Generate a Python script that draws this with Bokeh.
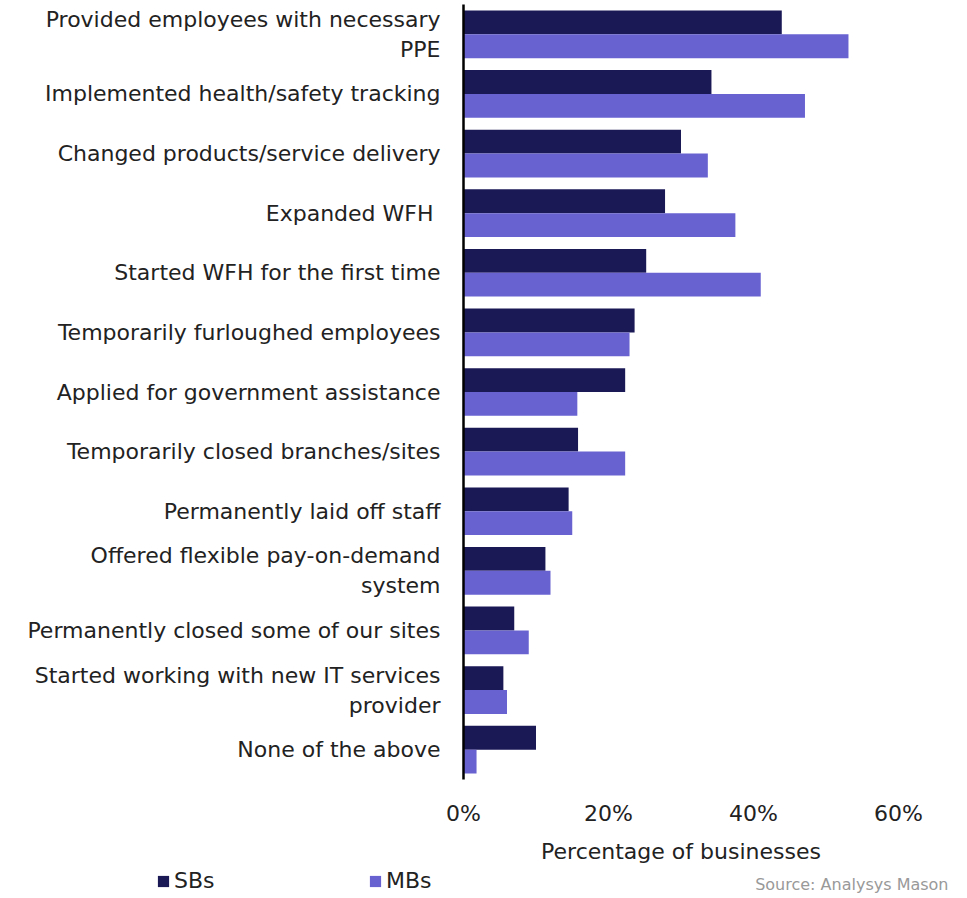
from bokeh.plotting import figure
from bokeh.models import (ColumnDataSource, FactorRange, Range1d, FixedTicker,
                          PrintfTickFormatter, Legend, LegendItem, Label)
from bokeh.transform import dodge
from bokeh.embed import file_html
from bokeh.resources import INLINE

categories = [
    "Provided employees with necessary\nPPE",
    "Implemented health/safety tracking",
    "Changed products/service delivery",
    "Expanded WFH ",
    "Started WFH for the first time",
    "Temporarily furloughed employees",
    "Applied for government assistance",
    "Temporarily closed branches/sites",
    "Permanently laid off staff",
    "Offered flexible pay-on-demand\nsystem",
    "Permanently closed some of our sites",
    "Started working with new IT services\nprovider",
    "None of the above",
]
sbs = [43.9, 34.2, 30.0, 27.8, 25.2, 23.6, 22.3, 15.8, 14.5, 11.3, 7.0, 5.5, 10.0]
mbs = [53.1, 47.1, 33.7, 37.5, 41.0, 22.9, 15.7, 22.3, 15.0, 12.0, 9.0, 6.0, 1.8]
series_names = ["SBs", "MBs"]
x_ticks = [0, 20, 40, 60]

SB_COLOR = "#1b1856"
MB_COLOR = "#6762d0"
FONT = "DejaVu Sans"
TEXT = "#222222"

src = ColumnDataSource(data=dict(cat=categories, sbs=sbs, mbs=mbs))


def add_bars(fig, visible=True):
    r1 = fig.hbar(y=dodge("cat", 0.2, range=fig.y_range), right="sbs", left=0,
                  height=0.4, source=src, fill_color=SB_COLOR, line_color=None,
                  visible=visible)
    r2 = fig.hbar(y=dodge("cat", -0.2, range=fig.y_range), right="mbs", left=0,
                  height=0.4, source=src, fill_color=MB_COLOR, line_color=None,
                  visible=visible)
    return r1, r2


p = figure(width=951, height=866, output_backend="svg", toolbar_location=None,
           y_range=FactorRange(factors=list(reversed(categories))),
           x_range=Range1d(0, 60),
           min_border_left=463, min_border_right=53,
           min_border_top=4, min_border_bottom=0)
add_bars(p)

p.outline_line_color = None
p.xgrid.grid_line_color = None
p.ygrid.grid_line_color = None

# x axis
xa = p.xaxis[0]
xa.ticker = FixedTicker(ticks=x_ticks)
xa.formatter = PrintfTickFormatter(format="%d%%")
xa.axis_line_color = None
xa.major_tick_line_color = None
xa.minor_tick_line_color = None
xa.major_tick_out = 0
xa.major_tick_in = 0
xa.major_label_text_font = FONT
xa.major_label_text_font_size = "22px"
xa.major_label_text_color = TEXT
xa.major_label_standoff = 21
xa.axis_label = "Percentage of businesses"
xa.axis_label_text_font = FONT
xa.axis_label_text_font_size = "22px"
xa.axis_label_text_font_style = "normal"
xa.axis_label_text_color = TEXT
xa.axis_label_standoff = 10

# y axis
ya = p.yaxis[0]
ya.axis_line_color = "black"
ya.axis_line_width = 2.5
ya.major_tick_line_color = None
ya.minor_tick_line_color = None
ya.major_tick_out = 0
ya.major_tick_in = 0
ya.major_label_text_font = FONT
ya.major_label_text_font_size = "22px"
ya.major_label_text_color = TEXT
ya.major_label_standoff = 23

# legend / source row (separate root so its frame is the whole strip)
p2 = figure(width=951, height=28, output_backend="svg", toolbar_location=None,
            y_range=FactorRange(factors=list(reversed(categories))),
            x_range=Range1d(0, 60),
            x_axis_type=None, y_axis_type=None, min_border=0)
p2.outline_line_color = None
r_sb, r_mb = add_bars(p2, visible=False)

legend = Legend(items=[LegendItem(label=series_names[0], renderers=[r_sb]),
                       LegendItem(label=series_names[1], renderers=[r_mb])],
                orientation="horizontal", location=(156, 1),
                padding=0, margin=0, spacing=4,
                glyph_width=14, glyph_height=14, label_standoff=4,
                label_width=190, label_text_font=FONT,
                label_text_font_size="22px", label_text_color=TEXT,
                border_line_color=None, background_fill_alpha=0,
                inactive_fill_alpha=0)
p2.add_layout(legend, "center")

src_label = Label(x=948, y=10, x_units="screen", y_units="screen",
                  text="Source: Analysys Mason", text_align="right",
                  text_baseline="alphabetic", text_font=FONT,
                  text_font_size="16px", text_color="#999999")
p2.add_layout(src_label)

open("out.html", "w").write(file_html([p, p2], INLINE))
